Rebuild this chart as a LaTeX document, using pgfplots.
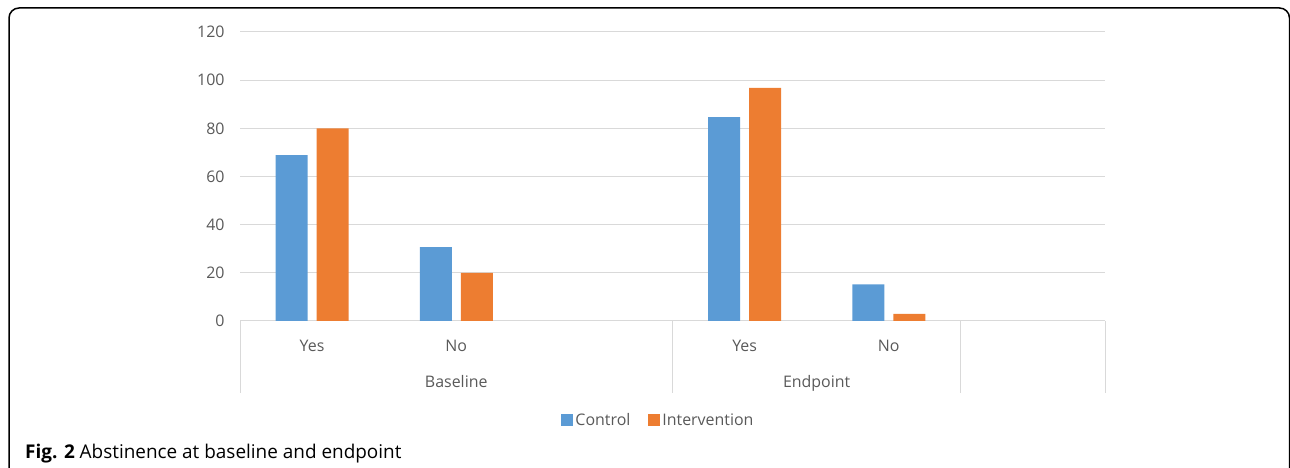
\documentclass[border=0pt]{standalone}
\usepackage{pgfplots}
\pgfplotsset{compat=1.18}
\usepackage{fontspec}
\setmainfont{Open Sans}
\definecolor{ctrl}{HTML}{5B9BD5}
\definecolor{intv}{HTML}{ED7D31}
\definecolor{gridc}{HTML}{D9D9D9}
\definecolor{txt}{HTML}{595959}
\begin{document}
\begin{tikzpicture}[x=1bp,y=1bp]
\useasboundingbox (0,0) rectangle (1290,468);
\draw[line width=1.5bp, rounded corners=10bp] (9,-20) -- (9,460) -- (1289.5,460) -- (1289.5,-20);
\begin{axis}[
  at={(240bp,147bp)}, anchor=south west,
  scale only axis, width=865bp, height=289bp,
  ybar=9bp, bar width=32bp,
  xmin=-0.5, xmax=5.5, ymin=0, ymax=120,
  enlargelimits=false, clip=false,
  ytick={0,20,...,120},
  xtick={0,1,3,4}, xticklabels={Yes,No,Yes,No},
  axis x line*=bottom, axis y line*=left,
  y axis line style={draw=none},
  x axis line style={gridc, line width=1bp},
  major tick length=0pt,
  ymajorgrids, grid style={gridc, line width=1bp},
  /pgf/number format/assume math mode=true,
  tick label style={font=\fontsize{16}{19}\selectfont, text=txt},
  yticklabel style={xshift=-12bp},
  xticklabel style={anchor=base, yshift=-31bp},
  legend style={draw=none, legend columns=2, at={(0.4838,-0.3426)}, anchor=center,
    font=\fontsize{16}{19}\selectfont, text=txt, inner sep=0pt,
    /tikz/every even column/.append style={column sep=16bp}},
  legend image code/.code={\fill[#1] (0bp,-6bp) rectangle (12bp,6bp);},
]
\addplot[fill=ctrl, draw=none] coordinates {(0,68.9) (1,30.7) (3,84.6) (4,15.2)};
\addplot[fill=intv, draw=none] coordinates {(0,80) (1,20) (3,96.8) (4,3.0)};
\legend{Control, Intervention}
\draw[gridc, line width=1bp] (axis cs:-0.5,0) -- ([yshift=-72bp]axis cs:-0.5,0);
\draw[gridc, line width=1bp] (axis cs:2.5,0) -- ([yshift=-72bp]axis cs:2.5,0);
\draw[gridc, line width=1bp] (axis cs:4.5,0) -- ([yshift=-72bp]axis cs:4.5,0);
\draw[gridc, line width=1bp] (axis cs:5.5,0) -- ([yshift=-72bp]axis cs:5.5,0);
\node[anchor=base, font=\fontsize{16}{19}\selectfont, text=txt, inner sep=0pt] at ([yshift=-66.5bp]axis cs:1,0) {Baseline};
\node[anchor=base, font=\fontsize{16}{19}\selectfont, text=txt, inner sep=0pt] at ([yshift=-66.5bp]axis cs:3.5,0) {Endpoint};
\end{axis}
\node[anchor=base west, inner sep=0pt, font=\fontsize{19}{22}\selectfont] at (25,9) {\textbf{Fig. 2} Abstinence at baseline and endpoint};
\end{tikzpicture}
\end{document}
